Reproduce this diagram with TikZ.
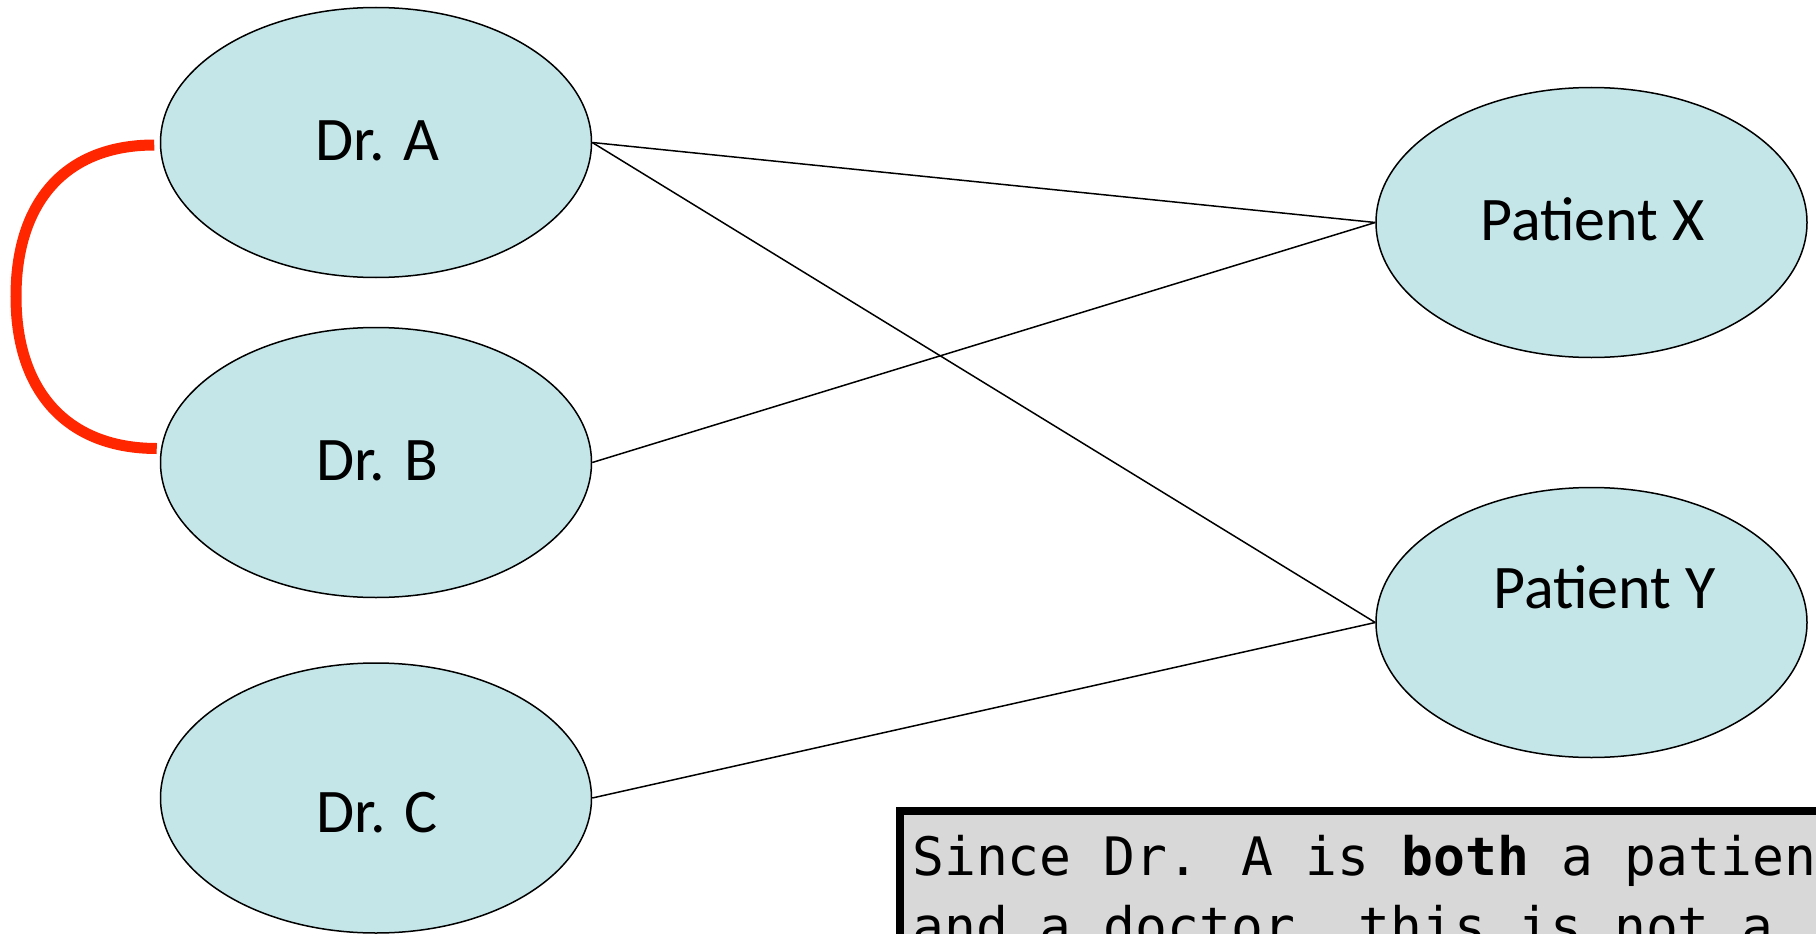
\documentclass[tikz,border=0pt]{standalone}
\usepackage{fontspec}
\newfontfamily\labelfont{Carlito}
\newfontfamily\notefont{DejaVu Sans Mono}
\usetikzlibrary{shapes.geometric}
\definecolor{ellfill}{RGB}{196,230,232}
\definecolor{boxfill}{RGB}{216,216,216}
\definecolor{arcred}{RGB}{255,38,0}
\begin{document}
\begin{tikzpicture}[x=1pt,y=-1pt,
  ell/.style={ellipse, draw=black, line width=1.5pt, fill=ellfill, minimum width=431pt, minimum height=270pt, inner sep=0pt},
  lbl/.style={font=\labelfont\fontsize{62}{62}\selectfont, anchor=base, inner sep=0pt},
  edge/.style={draw=black, line width=1.5pt},
  redarc/.style={draw=arcred, line width=11pt},
  notebox/.style={draw=black, line width=8pt, fill=boxfill, anchor=north west, minimum width=1000pt, minimum height=300pt},
  notetext/.style={font=\notefont\fontsize{53}{70}\selectfont, anchor=base west, inner sep=0pt, align=left}]
\useasboundingbox (0,0) rectangle (1816,934);
\clip (0,0) rectangle (1816,934);
\fill[white] (0,0) rectangle (1816,934);

% ellipses
\node[ell] (A) at (376,142.5) {};
\node[ell] (B) at (376,462.5) {};
\node[ell] (C) at (376,798) {};
\node[ell] (X) at (1591.5,222.5) {};
\node[ell] (Y) at (1591.5,622.5) {};

% labels
\node[lbl] (Al) at (377.5,160) {Dr. A};
\node[lbl] (Bl) at (377,480) {Dr. B};
\node[lbl] (Cl) at (377.3,832.7) {Dr. C};
\node[lbl] (Xl) at (1592.5,240) {Patient X};
\node[lbl] (Yl) at (1604.5,608) {Patient Y};

% connectors
\draw[edge] (A.east) -- (X.west);
\draw[edge] (A.east) -- (Y.west);
\draw[edge] (B.east) -- (X.west);
\draw[edge] (C.east) -- (Y.west);

% red arc between Dr. A and Dr. B
\coordinate (r1) at ([xshift=-5.5pt,yshift=-2.5pt]A.west);
\coordinate (r2) at ([xshift=-3pt,yshift=14pt]B.west);
\coordinate (rm) at (16,296.5);
\draw[redarc] (r1) .. controls +(-88,0) and +(0,-95.5) .. (rm) .. controls +(0,95.5) and +(-89,0) .. (r2);

% note box
\node[notebox] (note) at (896,807) {};
\node[notetext] (nt) at (912,945) {Since Dr. A is \textbf{both} a patien\\and a doctor, this is not a};
\end{tikzpicture}
\end{document}
